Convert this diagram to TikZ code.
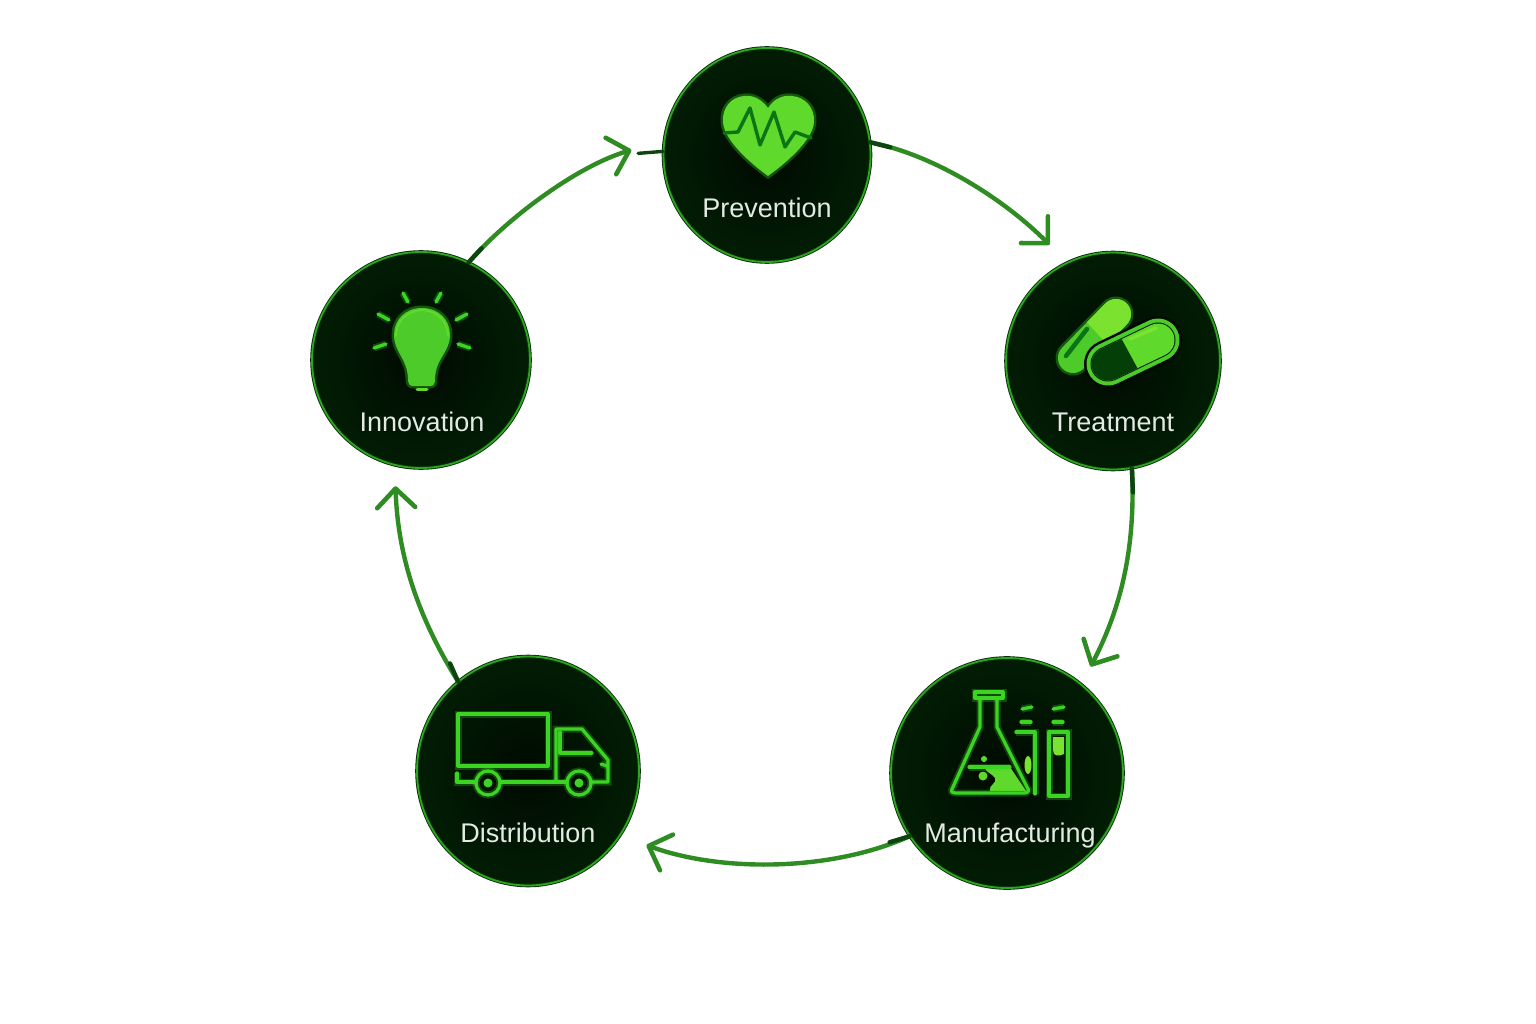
\documentclass[tikz,border=0pt]{standalone}
\usepackage{fontspec}
\setmainfont{Liberation Sans}
\usetikzlibrary{shapes.geometric,arrows.meta}
\definecolor{rimdark}{HTML}{06300A}
\definecolor{rimgreen}{HTML}{2FA41F}
\definecolor{discin}{HTML}{000A01}
\definecolor{discout}{HTML}{021D04}
\definecolor{neon}{HTML}{3CD422}
\definecolor{bright}{HTML}{5FD92B}
\definecolor{lime}{HTML}{7BE32F}
\definecolor{mid}{HTML}{4CCB2A}
\definecolor{deep}{HTML}{0C7414}
\definecolor{pilldark}{HTML}{053F08}
\definecolor{labeltext}{HTML}{E2EAE2}
\definecolor{arrowgreen}{HTML}{2F8C22}
\definecolor{stubdark}{HTML}{0E4412}
\tikzset{
  disc/.style={ellipse,inner sep=0pt,draw=rimdark,line width=.9pt,double=rimgreen,double distance=1.8pt,inner color=discin,outer color=discout},
  lab/.style={text=labeltext,font=\fontsize{27pt}{30pt}\selectfont,inner sep=0pt,anchor=base},
  flow/.style={draw=arrowgreen,line width=4.4pt,-{Straight Barb[length=19pt,width=38pt,line width=4.6pt,round]}},
  stub/.style={draw=stubdark,line width=4.4pt,line cap=round},
  neonline/.style={draw=neon,line width=3.3pt,line cap=round,line join=round,preaction={draw=neon,draw opacity=.28,line width=7pt}},
  glowfill/.style={preaction={draw=neon,draw opacity=.35,line width=5pt}}
}
\begin{document}
\begin{tikzpicture}[x=1pt,y=-1pt]
\useasboundingbox (0,0) rectangle (1536,1024);
% discs
\node[disc,minimum width=207pt,minimum height=214pt] (prev) at (767,155) {};
\node[disc,minimum width=214pt,minimum height=217pt] (treat) at (1113,361) {};
\node[disc,minimum width=232pt,minimum height=230pt] (manu) at (1007,773) {};
\node[disc,minimum width=222pt,minimum height=229pt] (dist) at (528,771) {};
\node[disc,minimum width=218pt,minimum height=216pt] (inno) at (421,360) {};
% labels
\node[lab] (lprev) at (767,218) {Prevention};
\node[lab] (ltreat) at (1113,431) {Treatment};
\node[lab] (lmanu) at (1010,842) {Manufacturing};
\node[lab] (ldist) at (528,842) {Distribution};
\node[lab] (linno) at (422,431) {Innovation};
% connectors
\draw[flow,shorten >=25pt] (prev.7) .. controls (935,155) and (1005,200) .. (treat.115);
\draw[flow,shorten >=20pt] (treat.-80) .. controls (1136,550) and (1120,610) .. (manu.50);
\draw[flow,shorten >=28pt] (manu.213) .. controls (830,872) and (720,872) .. (dist.-35);
\draw[flow,shorten >=21pt] (dist.128) .. controls (420,620) and (398,560) .. (inno.256);
\draw[flow,shorten >=34pt] (inno.64) .. controls (510,215) and (580,165) .. (prev.172);
\draw[stub,line width=3.4pt] (prev.178) -- ++(-25,2);
\draw[stub] (prev.7) -- ++(20,5);
\draw[stub] (treat.-80) -- ++(1,24);
\draw[stub] (manu.213) -- ++(-20,6);
\draw[stub] (dist.128) -- ++(-8,-18);
\draw[stub] (inno.64) -- ++(13,-14);
% heart
\path[fill=bright,glowfill] (768,108) .. controls (760,97) and (750,95) .. (744,96)
  .. controls (731,97) and (722,108) .. (723,122)
  .. controls (724,140) and (750,163) .. (768,176)
  .. controls (786,163) and (813,140) .. (814,122)
  .. controls (815,108) and (805,97) .. (792,96)
  .. controls (785,95) and (775,97) .. (768,108) -- cycle;
\draw[draw=deep,line width=3.4pt,line join=round,line cap=round] (724,133) -- (738,132) -- (750,108) -- (760,145) -- (774,112) -- (785,147) -- (795,132) -- (811,138);
% left pill
\draw[draw=neon,draw opacity=.35,line width=35pt,line cap=round] (1073,358) -- (1116,314);
\draw[draw=mid,line width=30pt,line cap=round] (1073,358) -- (1116,314);
\begin{scope}
\clip (1085,320) -- (1105,342) -- (1150,320) -- (1130,280) -- (1100,290) -- cycle;
\draw[draw=lime,line width=30pt,line cap=round] (1073,358) -- (1116,314);
\end{scope}
\draw[draw=deep,line width=4.5pt,line cap=round] (1066,356) -- (1087,329);
% right pill
\draw[draw=discin,line width=48pt,line cap=round] (1108,364) -- (1158,340);
\draw[draw=mid,line width=43pt,line cap=round] (1108,364) -- (1158,340);
\draw[draw=discout,line width=35pt,line cap=round] (1108,364) -- (1158,340);
\draw[draw=bright,line width=33pt,line cap=round] (1108,364) -- (1158,340);
\begin{scope}
\clip (1120,336) -- (1139,371) -- (1090,400) -- (1070,350) -- cycle;
\draw[draw=pilldark,line width=33pt,line cap=round] (1108,364) -- (1158,340);
\end{scope}
\draw[draw=lime,line width=3.5pt,line cap=round] (1130,339) -- (1156,328);
% flask
\path[fill=bright] (985,767) -- (1010,767) -- (1026,791) -- (990,791) .. controls (988,785) and (998,783) .. (995,778) .. controls (990,772) and (985,772) .. (985,767) -- cycle;
\fill[bright] (984,759) circle (3pt);
\fill[bright] (983,776) circle (4.5pt);
\draw[neonline] (980,699) -- (980,727) -- (953,787) .. controls (950,792) and (952,793) .. (956,793) -- (1024,793) .. controls (1028,793) and (1030,791) .. (1027,787) -- (997,727) -- (997,699);
\draw[neonline] (975,692) rectangle (1003,698);
\draw[neonline] (969,767) -- (1010,767);
\draw[neonline] (1022,709) -- (1032,707);
\draw[neonline] (1021,722) -- (1031,722);
\draw[neonline] (1053,709) -- (1064,707);
\draw[neonline] (1053,722) -- (1063,722);
\draw[neonline] (1016,732) -- (1035,732) -- (1035,794);
\fill[lime] (1028,765) ellipse (3.5pt and 9pt);
\draw[neonline] (1049,732) rectangle (1068,796);
\path[fill=lime] (1053,737) -- (1064,737) -- (1064,754) .. controls (1058,757) and (1053,756) .. (1053,750) -- cycle;
% truck
\draw[neonline] (458,714) rectangle (548,766);
\draw[neonline] (457,773) -- (457,782) -- (475,782);
\draw[neonline] (501,782) -- (566,782);
\draw[neonline] (592,782) -- (608,782) -- (608,760) -- (582,729) -- (556,729) -- (556,780);
\draw[neonline] (560,732) -- (560,753) -- (592,753);
\draw[neonline] (601,764) -- (607,766);
\draw[neonline] (488,783) circle (12pt);
\fill[neon] (488,783) circle (4.5pt);
\draw[neonline] (579,783) circle (12pt);
\fill[neon] (579,783) circle (4.5pt);
% bulb
\path[fill=mid,glowfill] (422,308) .. controls (405,308) and (394,320) .. (394,335)
  .. controls (394,352) and (407,358) .. (408,378)
  .. controls (408,385) and (410,386) .. (414,386) -- (430,386)
  .. controls (434,386) and (435,384) .. (435,378)
  .. controls (436,358) and (450,352) .. (450,335)
  .. controls (450,320) and (439,308) .. (422,308) -- cycle;
\draw[draw=bright,line width=2pt,line cap=round] (396,336) .. controls (396,322) and (406,311) .. (422,310) .. controls (438,311) and (448,322) .. (448,336);
\draw[draw=bright,line width=3pt,line cap=round] (417,389) -- (427,389);
\draw[neonline,line width=3.4pt] (403,293) -- (408,302);
\draw[neonline,line width=3.4pt] (441,293) -- (436,302);
\draw[neonline,line width=3.4pt] (378,314) -- (389,320);
\draw[neonline,line width=3.4pt] (467,314) -- (456,320);
\draw[neonline,line width=3.4pt] (374,348) -- (386,344);
\draw[neonline,line width=3.4pt] (470,348) -- (458,344);
\end{tikzpicture}
\end{document}
